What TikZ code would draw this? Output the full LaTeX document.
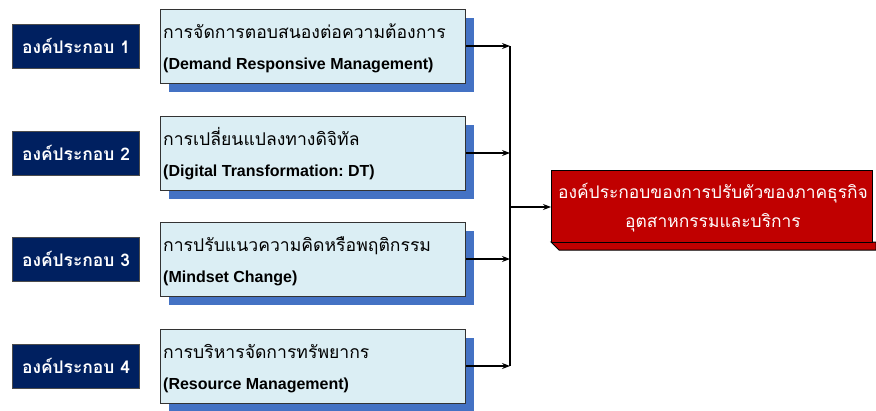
\documentclass[tikz,border=0pt]{standalone}
\usepackage{fontspec}
\setmainfont{Liberation Sans}
\newfontfamily\thaif[Script=Thai]{Loma}
\usetikzlibrary{shadows,arrows.meta}
\definecolor{navy}{RGB}{0,32,96}
\definecolor{lightbox}{RGB}{219,238,244}
\definecolor{shadowblue}{RGB}{68,114,196}
\definecolor{darkred}{RGB}{192,0,0}
\frenchspacing
\begin{document}
\begin{tikzpicture}[x=1pt,y=-1pt,
  comp/.style={fill=navy,draw=black!70,line width=0.8pt,minimum width=127pt,minimum height=44pt,inner sep=0pt,text=white,font=\thaif\bfseries\fontsize{17.4}{20}\selectfont},
  itembox/.style={fill=lightbox,draw=black!80,line width=1pt,minimum width=305pt,minimum height=74pt,anchor=north west,inner sep=0pt,
     general shadow={fill=shadowblue,shadow xshift=8pt,shadow yshift=-8pt}},
  thailine/.style={anchor=base west,inner sep=0pt,font=\thaif\fontsize{17.6}{20}\selectfont},
  engline/.style={anchor=base west,inner sep=0pt,font=\bfseries\fontsize{16}{19}\selectfont},
  conn/.style={line width=1.1pt,-{Stealth[length=8pt,width=6pt]}}
]
\useasboundingbox (0,0) rectangle (876,410);

% left component labels
\node[comp] (c1) at (76,46) {องค์ประกอบ 1};
\node[comp] (c2) at (76,153) {องค์ประกอบ 2};
\node[comp] (c3) at (76,259) {องค์ประกอบ 3};
\node[comp] (c4) at (76,366) {องค์ประกอบ 4};

% item boxes
\node[itembox] (b1) at (160,9) {};
\node[itembox] (b2) at (160,116) {};
\node[itembox] (b3) at (160,222) {};
\node[itembox] (b4) at (160,329) {};

\node[thailine] (t1) at (163,38) {การจัดการตอบสนองต่อความต้องการ};
\node[engline] (e1) at (163,69) {(Demand Responsive Management)};
\node[thailine] (t2) at (163,145) {การเปลี่ยนแปลงทางดิจิทัล};
\node[engline] (e2) at (163,176) {(Digital Transformation: DT)};
\node[thailine] (t3) at (163,251) {การปรับแนวความคิดหรือพฤติกรรม};
\node[engline] (e3) at (163,282) {(Mindset Change)};
\node[thailine] (t4) at (163,358) {การบริหารจัดการทรัพยากร};
\node[engline] (e4) at (163,389) {(Resource Management)};

% right result box
\fill[darkred,draw=black,line width=1pt] (551,242) -- (559,250) -- (876,250) -- (876,242) -- cycle;
\node[fill=darkred,draw=black,line width=1pt,minimum width=321pt,minimum height=72pt,anchor=north west,inner sep=0pt] (r) at (551,170) {};
\node[anchor=base,inner sep=0pt,text=white,font=\thaif\fontsize{17.4}{20}\selectfont] (r1) at (713,198) {องค์ประกอบของการปรับตัวของภาคธุรกิจ};
\node[anchor=base,inner sep=0pt,text=white,font=\thaif\fontsize{17.4}{20}\selectfont] (r2) at (713,227) {อุตสาหกรรมและบริการ};

% connectors
\coordinate (j1) at (510,46);
\coordinate (j2) at (510,153);
\coordinate (j3) at (510,259);
\coordinate (j4) at (510,366);
\coordinate (jm) at (510,207);
\draw[line width=1.1pt] (j1) -- (j4);
\draw[conn] (b1.east |- j1) -- (j1);
\draw[conn] (b2.east |- j2) -- (j2);
\draw[conn] (b3.east |- j3) -- (j3);
\draw[conn] (b4.east |- j4) -- (j4);
\draw[conn] (jm) -- (r.west |- jm);
\end{tikzpicture}
\end{document}
